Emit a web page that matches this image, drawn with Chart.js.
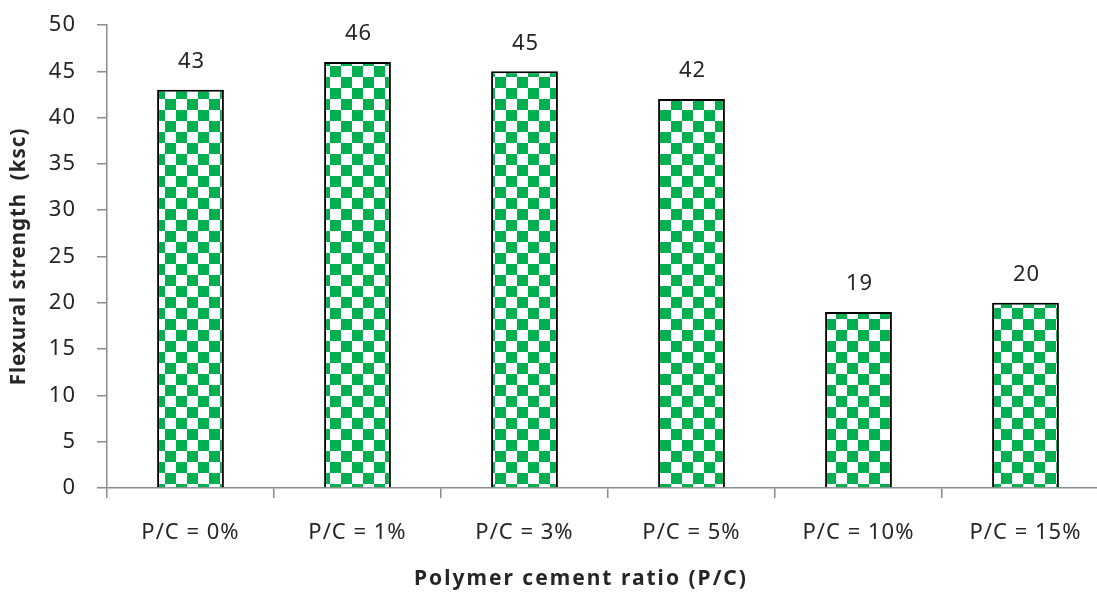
<!DOCTYPE html>
<html>
<head>
  <script src="https://cdn.jsdelivr.net/npm/chart.js"></script>
  <style>
    html, body { margin: 0; padding: 0; background: #fff; overflow: hidden; }
    #wrap { width: 1110px; height: 593px; }
  </style>
</head>
<body>
  <div id="wrap"><canvas id="flexChart" width="1110" height="593"></canvas></div>
  <script>
    // data
    const categories = ['P/C = 0%', 'P/C = 1%', 'P/C = 3%', 'P/C = 5%', 'P/C = 10%', 'P/C = 15%'];
    const flexural = [43, 46, 45, 42, 19, 20];
    const yTicks = [0, 5, 10, 15, 20, 25, 30, 35, 40, 45, 50];

    const FONT = "'Noto Sans', sans-serif";
    const axisGrey = '#8c8c8c';
    const SPACING = '1px';

    // checkerboard fill like the excel pattern
    function checker() {
      const c = document.createElement('canvas');
      const s = 11;
      c.width = s * 2; c.height = s * 2;
      const g = c.getContext('2d');
      g.fillStyle = '#ffffff';
      g.fillRect(0, 0, s * 2, s * 2);
      g.fillStyle = '#00b050';
      g.fillRect(0, 0, s, s);
      g.fillRect(s, s, s, s);
      return g.createPattern(c, 'repeat');
    }

    // a bit of tracking, the original font is spaced out
    const tracking = {
      id: 'tracking',
      beforeLayout(chart) { chart.ctx.letterSpacing = SPACING; },
      beforeDraw(chart) { chart.ctx.letterSpacing = SPACING; }
    };

    const valueLabels = {
      id: 'valueLabels',
      afterDatasetsDraw(chart) {
        const ctx = chart.ctx;
        const meta = chart.getDatasetMeta(0);
        ctx.save();
        ctx.font = '22px ' + FONT;
        ctx.fillStyle = '#262626';
        ctx.textAlign = 'center';
        ctx.textBaseline = 'middle';
        meta.data.forEach((bar, i) => {
          ctx.fillText(flexural[i], bar.x + 1, bar.y - 28);
        });
        ctx.restore();
      }
    };

    const xTitle = {
      id: 'xTitle',
      afterDraw(chart) {
        const ctx = chart.ctx;
        ctx.save();
        ctx.letterSpacing = '2px';
        ctx.font = 'bold 21px ' + FONT;
        ctx.fillStyle = '#262626';
        ctx.textAlign = 'center';
        ctx.textBaseline = 'middle';
        ctx.fillText('Polymer cement ratio (P/C)', 581, 579);
        ctx.restore();
      }
    };

    new Chart(document.getElementById('flexChart'), {
      type: 'bar',
      data: {
        labels: categories,
        datasets: [{
          data: flexural,
          backgroundColor: checker(),
          borderColor: '#000000',
          borderWidth: 2,
          barPercentage: 0.4,
          categoryPercentage: 1
        }]
      },
      options: {
        responsive: false,
        animation: false,
        layout: { padding: { top: 25, right: 1, left: 0, bottom: 0 } },
        plugins: { legend: { display: false }, tooltip: { enabled: false } },
        scales: {
          x: {
            offset: true,
            grid: { offset: true, drawOnChartArea: false, color: axisGrey, lineWidth: 1.5, tickLength: 10 },
            border: { color: axisGrey, width: 1.5 },
            ticks: { color: '#262626', font: { family: FONT, size: 22 }, padding: 22, maxRotation: 0, autoSkip: false },
            afterFit(s) { s.height = 105; }
          },
          y: {
            min: 0,
            max: 50,
            afterBuildTicks(s) { s.ticks = yTicks.map(v => ({ value: v })); },
            grid: { drawOnChartArea: false, color: axisGrey, lineWidth: 1.5, tickLength: 10 },
            border: { color: axisGrey, width: 1.5 },
            ticks: { color: '#262626', font: { family: FONT, size: 22 }, padding: 21 },
            title: {
              display: true,
              text: 'Flexural strength  (ksc)',
              color: '#262626',
              font: { family: FONT, size: 20.5, weight: 'bold' },
              padding: { top: 7, bottom: 4 }
            },
            afterFit(s) {
              s.width = 107;
              // tick padding would otherwise push the plot top down
              s.paddingTop = 0;
              s.paddingBottom = 0;
            }
          }
        }
      },
      plugins: [tracking, valueLabels, xTitle]
    });
  </script>
</body>
</html>
